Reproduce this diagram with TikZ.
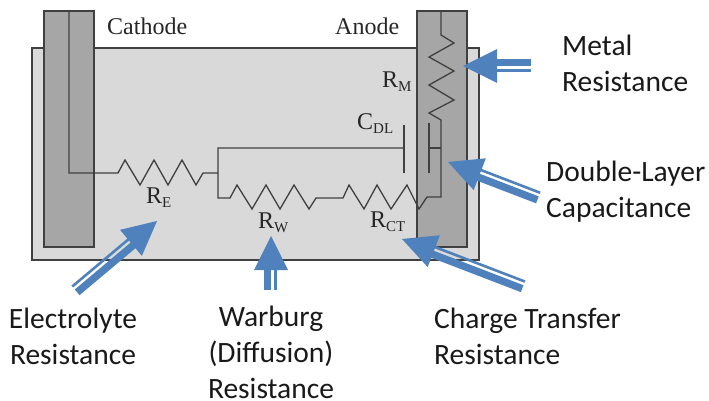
\documentclass[tikz,border=0pt]{standalone}
\usepackage{fontspec}
\setmainfont{Liberation Serif}
\newfontfamily\callout{Carlito}
\definecolor{tankfill}{HTML}{D9D9D9}
\definecolor{electrodefill}{HTML}{A6A6A6}
\definecolor{wirecol}{HTML}{404040}
\definecolor{arrowblue}{HTML}{4F81BD}
\tikzset{
  tank/.style={draw=wirecol,fill=tankfill,line width=1.4pt},
  electrode/.style={draw=wirecol,fill=electrodefill,line width=1.4pt},
  wire/.style={draw=wirecol,line width=1.3pt,line join=miter},
  serif/.style={anchor=base west,inner sep=0pt,text=black!85,font=\fontsize{24}{24}\selectfont},
  calloutlabel/.style={inner sep=0pt,font=\callout\fontsize{29.5}{36}\selectfont,text=black!90},
}
\newcommand{\Rsub}[2]{#1\raisebox{-4pt}{\fontsize{15}{15}\selectfont #2}}
% tip coordinate, canvas angle, length, side of the thick band (+1/-1)
\newcommand{\dblarrow}[4]{%
  \begin{scope}[shift={(#1)},rotate=#2]
    \fill[arrowblue] (0,0) -- (34,-17) -- (34,17) -- cycle;
    \fill[arrowblue] (33,{#4*(-7)}) rectangle (#3,{#4*0.4});
    \fill[arrowblue] (33,{#4*3}) rectangle (#3,{#4*5.6});
  \end{scope}}
\begin{document}
\begin{tikzpicture}[x=1pt,y=-1pt]
\useasboundingbox (0,0) rectangle (709,401);
\path[tank] (32,48) rectangle (479,260);
\path[electrode] (44,11) rectangle (94,247);
\path[electrode] (417,11) rectangle (467,247);
% wires
\path[wire] (69,11) -- (69,173) -- (118,173) -- (125,160) -- (140,185) -- (154,160) -- (168,185) -- (182,160) -- (196,185) -- (203,173) -- (218,173);
\path[wire] (404,148) -- (218,148) -- (218,198) -- (230,198) -- (237,185) -- (252,209) -- (266,185) -- (280,209) -- (294,185) -- (309,209) -- (316,198) -- (343,198) -- (349,185) -- (364,209) -- (377,185) -- (391,209) -- (407,185) -- (419,209) -- (427,197) -- (441,197) -- (441,120) -- (429,113) -- (454,100) -- (429,85) -- (454,71) -- (429,57) -- (454,43) -- (441,35) -- (441,11);
\path[wire] (404,125) -- (404,173);
\path[wire] (429,123) -- (429,173);
\path[wire] (429,148) -- (441,148);
% serif labels
\node[serif] (cathode) at (107,35) {Cathode};
\node[serif] (anode) at (335,35) {Anode};
\node[serif] (rm) at (382,88) {\Rsub{R}{M}};
\node[serif] (cdl) at (357,130) {\Rsub{C}{DL}};
\node[serif] (re) at (146,203) {\Rsub{R}{E}};
\node[serif] (rw) at (258,228) {\Rsub{R}{W}};
\node[serif] (rct) at (370,227) {\Rsub{R}{CT}};
% arrows
\dblarrow{463,66}{0}{68}{1}
\dblarrow{448,162}{-21}{97}{-1}
\dblarrow{402,239}{-21}{130}{-1}
\dblarrow{271,236}{-90}{54}{-1}
\dblarrow{157,221}{-140}{107}{1}
% callouts
\node[calloutlabel,align=left,anchor=west] (metal) at (562,63) {Metal\\Resistance};
\node[calloutlabel,align=left,anchor=west] (dlc) at (546,192) {Double-Layer\\Capacitance};
\node[calloutlabel,align=center] (elec) at (73,336) {Electrolyte\\Resistance};
\node[calloutlabel,align=center] (warb) at (271,352) {Warburg\\(Diffusion)\\Resistance};
\node[calloutlabel,align=left,anchor=west] (ct) at (434,336) {Charge Transfer\\Resistance};
\end{tikzpicture}
\end{document}
